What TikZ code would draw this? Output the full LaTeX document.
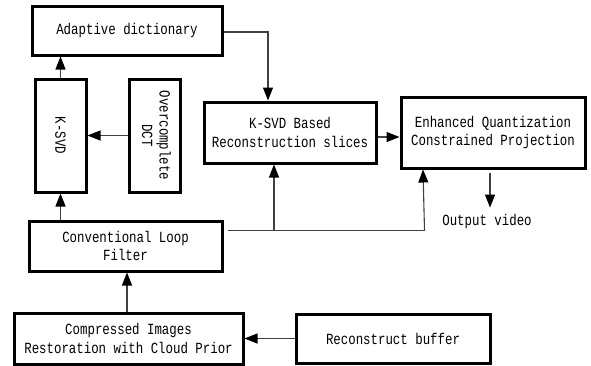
\documentclass[tikz,border=0pt]{standalone}
\usepackage{fontspec}
\setmainfont{Liberation Mono}[FakeStretch=0.8]
\usetikzlibrary{arrows.meta,calc}
\begin{document}
\begin{tikzpicture}[x=1pt,y=-1pt,
  box/.style={draw=black,line width=3pt,fill=white,inner sep=0pt,align=center,
    font=\fontsize{15.5}{18.5}\selectfont},
  conn/.style={draw=black!75,line width=1.1pt,-{Triangle[length=13pt,width=10pt,black]}},
  plain/.style={draw=black!75,line width=1.1pt}]
\useasboundingbox (0,0) rectangle (591,365);
\node[box,minimum width=190pt,minimum height=49pt] (ad) at (127,30.5) {Adaptive dictionary};
\node[box,minimum width=51pt,minimum height=113pt] (ksvd) at (60.5,135.5) {\rotatebox{-90}{K-SVD}};
\node[box,minimum width=51pt,minimum height=113pt] (dct) at (154.5,135.5) {\rotatebox{-90}{\begin{tabular}{@{}c@{}}Overcomplete\\[-1pt] DCT\end{tabular}}};
\node[box,minimum width=172pt,minimum height=61pt] (kb) at (290,132.5) {K-SVD Based\\Reconstruction slices};
\node[box,minimum width=184pt,minimum height=71pt] (eq) at (493,132.5) {Enhanced Quantization\\Constrained Projection};
\node[box,minimum width=193pt,minimum height=50pt] (clf) at (125.5,246) {Conventional Loop\\Filter};
\node[box,minimum width=229pt,minimum height=51pt] (ci) at (128.5,338.5) {Compressed Images\\Restoration with Cloud Prior};
\node[box,minimum width=194pt,minimum height=49pt] (rb) at (393,338.5) {Reconstruct buffer};
\node[font=\fontsize{15.5}{18}\selectfont,inner sep=0pt] (ov) at (487,221) {Output video};
% helper coordinates
\coordinate (a1) at ($(ad.east)+(0,1.5)$);
\coordinate (k1) at ($(kb.north)+(-22,0)$);
\coordinate (k2) at ($(kb.east)+(0,4.5)$);
\coordinate (s) at ($(clf.north east)+(4,11)$);
\coordinate (t) at ($(s)+(197,0)$);
\coordinate (e1) at ($(eq.south)+(-70,0)$);
\coordinate (j) at ($(kb.south)+(-16,0)$);
\coordinate (e2) at ($(eq.south)+(-3,3)$);
\coordinate (o) at ($(ov.north)+(3,-6)$);
\coordinate (c1) at ($(ci.north)+(-1.5,0)$);
% connectors
\draw[conn] (ksvd.north) -- (ksvd.north |- ad.south);
\draw[conn] (ksvd.south |- clf.north) -- (ksvd.south);
\draw[conn] (dct.west) -- (dct.west -| ksvd.east);
\draw[conn] (a1) -| (k1);
\draw[conn] (k2) -- (k2 -| eq.west);
\draw[plain] (s) -- (t);
\draw[conn] (t) -- (e1);
\draw[conn] (j |- s) -- (j);
\draw[conn] (e2) -- (o);
\draw[conn] (c1) -- (c1 |- clf.south);
\draw[conn] (rb.west) -- (rb.west -| ci.east);
\end{tikzpicture}
\end{document}
